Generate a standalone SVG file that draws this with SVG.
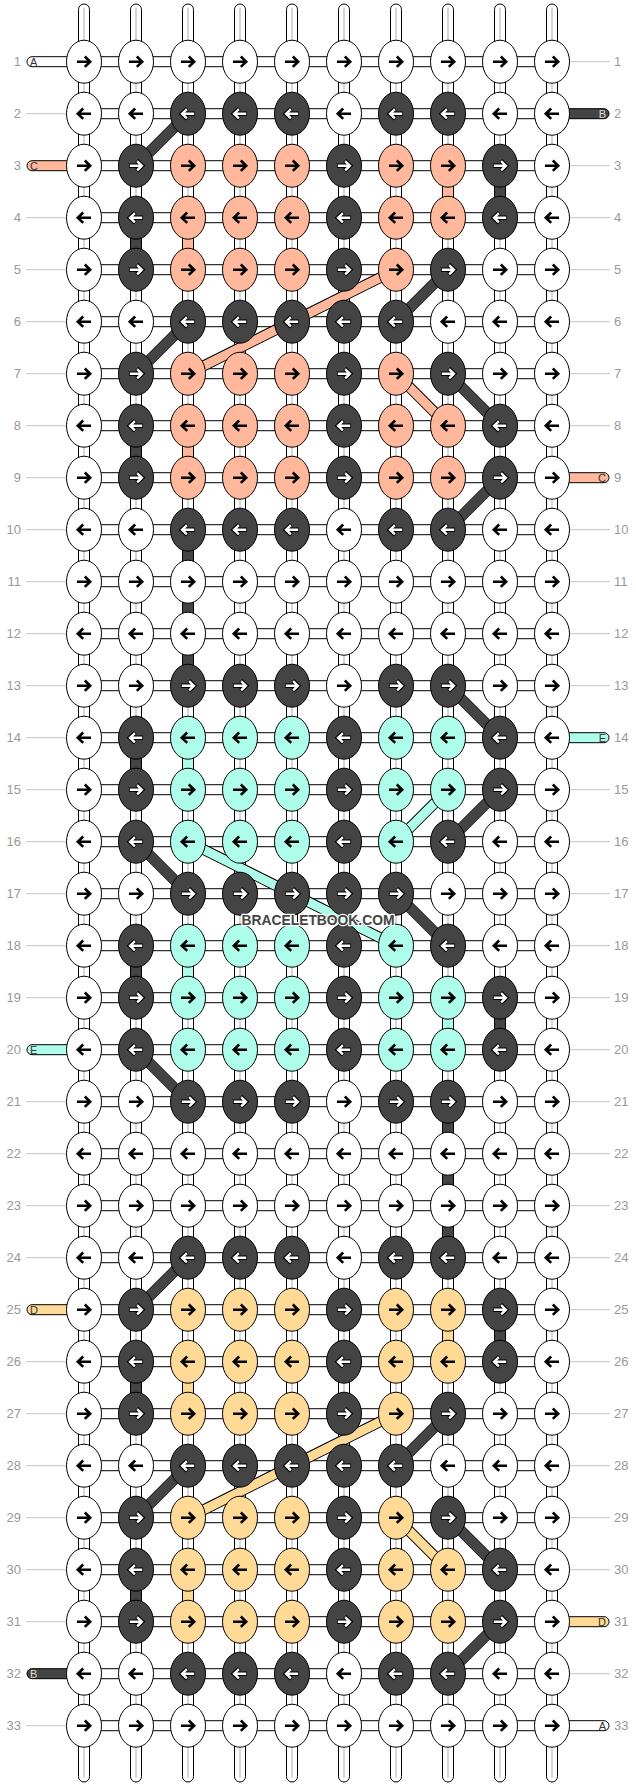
<svg xmlns="http://www.w3.org/2000/svg" xmlns:xlink="http://www.w3.org/1999/xlink" width="636" height="1788" viewBox="0 0 636 1788">
<style>
.w{fill:#fff;stroke:#000;stroke-width:1}
.d{fill:#444;stroke:#000;stroke-width:1}
.s{fill:#ffb89c;stroke:#000;stroke-width:1}
.e{fill:#adfdea;stroke:#000;stroke-width:1}
.y{fill:#ffd996;stroke:#000;stroke-width:1}
.strand{fill:#fff;stroke:#000;stroke-width:1}
.mid{stroke:#bdbdbd;stroke-width:1.2}
.hbar{fill:#fff;stroke:#000;stroke-width:1}
.lbl{font-family:"Liberation Sans",Arial,sans-serif;font-size:13px;fill:#999}
.gl{stroke:#c4c4c4;stroke-width:1}
.tl{font-family:"Liberation Sans",Arial,sans-serif;font-size:11px;fill:#333}
.dk{stroke:#444;stroke-width:10}
.ol{stroke:#000;stroke-width:11}
.cs{stroke:#ffb89c;stroke-width:9}
.ce{stroke:#adfdea;stroke-width:9}
.cy{stroke:#ffd996;stroke-width:9}
.wm{font-family:"Liberation Sans",Arial,sans-serif;font-weight:bold;font-size:15.5px;fill:#444;stroke:#fff;stroke-width:2.5;paint-order:stroke;stroke-linejoin:round}
</style>
<defs>
<path id="R" d="M-7 0H5.5M0.8-5.2L6.2 0 0.8 5.2" fill="none" stroke="#000" stroke-width="2.6"/>
<path id="L" d="M7 0H-5.5M-0.8-5.2L-6.2 0-0.8 5.2" fill="none" stroke="#000" stroke-width="2.6"/>
<g id="RW"><path d="M-7 0H5.5M0.8-5.2L6.2 0 0.8 5.2" fill="none" stroke="#000" stroke-width="4.4"/><path d="M-6.2 0H5.3M1.1-4.6L5.9 0 1.1 4.6" fill="none" stroke="#fff" stroke-width="2.4"/></g>
<g id="LW"><path d="M7 0H-5.5M-0.8-5.2L-6.2 0-0.8 5.2" fill="none" stroke="#000" stroke-width="4.4"/><path d="M6.2 0H-5.3M-1.1-4.6L-5.9 0-1.1 4.6" fill="none" stroke="#fff" stroke-width="2.4"/></g>
</defs>
<g transform="translate(0 61.7)">
<g id="labels">
<g class="gl">
<line x1="26" y1="52" x2="67" y2="52"/><line x1="26" y1="156" x2="67" y2="156"/><line x1="26" y1="208" x2="67" y2="208"/><line x1="26" y1="260" x2="67" y2="260"/><line x1="26" y1="312" x2="67" y2="312"/><line x1="26" y1="364" x2="67" y2="364"/><line x1="26" y1="416" x2="67" y2="416"/><line x1="26" y1="468" x2="67" y2="468"/><line x1="26" y1="520" x2="67" y2="520"/><line x1="26" y1="572" x2="67" y2="572"/><line x1="26" y1="624" x2="67" y2="624"/><line x1="26" y1="676" x2="67" y2="676"/><line x1="26" y1="728" x2="67" y2="728"/><line x1="26" y1="780" x2="67" y2="780"/><line x1="26" y1="832" x2="67" y2="832"/><line x1="26" y1="884" x2="67" y2="884"/><line x1="26" y1="936" x2="67" y2="936"/><line x1="26" y1="1040" x2="67" y2="1040"/><line x1="26" y1="1092" x2="67" y2="1092"/><line x1="26" y1="1144" x2="67" y2="1144"/><line x1="26" y1="1196" x2="67" y2="1196"/><line x1="26" y1="1300" x2="67" y2="1300"/><line x1="26" y1="1352" x2="67" y2="1352"/><line x1="26" y1="1404" x2="67" y2="1404"/><line x1="26" y1="1456" x2="67" y2="1456"/><line x1="26" y1="1508" x2="67" y2="1508"/><line x1="26" y1="1560" x2="67" y2="1560"/><line x1="26" y1="1664" x2="67" y2="1664"/>
<line x1="569" y1="0" x2="610" y2="0"/><line x1="569" y1="104" x2="610" y2="104"/><line x1="569" y1="156" x2="610" y2="156"/><line x1="569" y1="208" x2="610" y2="208"/><line x1="569" y1="260" x2="610" y2="260"/><line x1="569" y1="312" x2="610" y2="312"/><line x1="569" y1="364" x2="610" y2="364"/><line x1="569" y1="468" x2="610" y2="468"/><line x1="569" y1="520" x2="610" y2="520"/><line x1="569" y1="572" x2="610" y2="572"/><line x1="569" y1="624" x2="610" y2="624"/><line x1="569" y1="728" x2="610" y2="728"/><line x1="569" y1="780" x2="610" y2="780"/><line x1="569" y1="832" x2="610" y2="832"/><line x1="569" y1="884" x2="610" y2="884"/><line x1="569" y1="936" x2="610" y2="936"/><line x1="569" y1="988" x2="610" y2="988"/><line x1="569" y1="1040" x2="610" y2="1040"/><line x1="569" y1="1092" x2="610" y2="1092"/><line x1="569" y1="1144" x2="610" y2="1144"/><line x1="569" y1="1196" x2="610" y2="1196"/><line x1="569" y1="1248" x2="610" y2="1248"/><line x1="569" y1="1300" x2="610" y2="1300"/><line x1="569" y1="1352" x2="610" y2="1352"/><line x1="569" y1="1404" x2="610" y2="1404"/><line x1="569" y1="1456" x2="610" y2="1456"/><line x1="569" y1="1508" x2="610" y2="1508"/><line x1="569" y1="1612" x2="610" y2="1612"/>
</g>
<g class="lbl" text-anchor="end">
<text x="21" y="4.5">1</text><text x="21" y="56.5">2</text><text x="21" y="108.5">3</text><text x="21" y="160.5">4</text><text x="21" y="212.5">5</text><text x="21" y="264.5">6</text><text x="21" y="316.5">7</text><text x="21" y="368.5">8</text><text x="21" y="420.5">9</text><text x="21" y="472.5">10</text><text x="21" y="524.5">11</text><text x="21" y="576.5">12</text><text x="21" y="628.5">13</text><text x="21" y="680.5">14</text><text x="21" y="732.5">15</text><text x="21" y="784.5">16</text><text x="21" y="836.5">17</text><text x="21" y="888.5">18</text><text x="21" y="940.5">19</text><text x="21" y="992.5">20</text><text x="21" y="1044.5">21</text><text x="21" y="1096.5">22</text><text x="21" y="1148.5">23</text><text x="21" y="1200.5">24</text><text x="21" y="1252.5">25</text><text x="21" y="1304.5">26</text><text x="21" y="1356.5">27</text><text x="21" y="1408.5">28</text><text x="21" y="1460.5">29</text><text x="21" y="1512.5">30</text><text x="21" y="1564.5">31</text><text x="21" y="1616.5">32</text><text x="21" y="1668.5">33</text>
</g>
<g class="lbl">
<text x="614" y="4.5">1</text><text x="614" y="56.5">2</text><text x="614" y="108.5">3</text><text x="614" y="160.5">4</text><text x="614" y="212.5">5</text><text x="614" y="264.5">6</text><text x="614" y="316.5">7</text><text x="614" y="368.5">8</text><text x="614" y="420.5">9</text><text x="614" y="472.5">10</text><text x="614" y="524.5">11</text><text x="614" y="576.5">12</text><text x="614" y="628.5">13</text><text x="614" y="680.5">14</text><text x="614" y="732.5">15</text><text x="614" y="784.5">16</text><text x="614" y="836.5">17</text><text x="614" y="888.5">18</text><text x="614" y="940.5">19</text><text x="614" y="992.5">20</text><text x="614" y="1044.5">21</text><text x="614" y="1096.5">22</text><text x="614" y="1148.5">23</text><text x="614" y="1200.5">24</text><text x="614" y="1252.5">25</text><text x="614" y="1304.5">26</text><text x="614" y="1356.5">27</text><text x="614" y="1408.5">28</text><text x="614" y="1460.5">29</text><text x="614" y="1512.5">30</text><text x="614" y="1564.5">31</text><text x="614" y="1616.5">32</text><text x="614" y="1668.5">33</text>
</g>
</g>
<g id="connectors">
<g id="strands">
<rect class="strand" x="78.5" y="-57.7" width="11" height="1778" rx="5.5"/>
<rect class="strand" x="130.5" y="-57.7" width="11" height="1778" rx="5.5"/>
<rect class="strand" x="182.5" y="-57.7" width="11" height="1778" rx="5.5"/>
<rect class="strand" x="234.5" y="-57.7" width="11" height="1778" rx="5.5"/>
<rect class="strand" x="286.5" y="-57.7" width="11" height="1778" rx="5.5"/>
<rect class="strand" x="338.5" y="-57.7" width="11" height="1778" rx="5.5"/>
<rect class="strand" x="390.5" y="-57.7" width="11" height="1778" rx="5.5"/>
<rect class="strand" x="442.5" y="-57.7" width="11" height="1778" rx="5.5"/>
<rect class="strand" x="494.5" y="-57.7" width="11" height="1778" rx="5.5"/>
<rect class="strand" x="546.5" y="-57.7" width="11" height="1778" rx="5.5"/>
<g class="mid">
<line x1="84" y1="-54" x2="84" y2="1716"/><line x1="136" y1="-54" x2="136" y2="1716"/><line x1="188" y1="-54" x2="188" y2="1716"/><line x1="240" y1="-54" x2="240" y2="1716"/><line x1="292" y1="-54" x2="292" y2="1716"/><line x1="344" y1="-54" x2="344" y2="1716"/><line x1="396" y1="-54" x2="396" y2="1716"/><line x1="448" y1="-54" x2="448" y2="1716"/><line x1="500" y1="-54" x2="500" y2="1716"/><line x1="552" y1="-54" x2="552" y2="1716"/>
</g>
</g>
<g id="rows-bars">
<rect class="hbar" x="84" y="-5" width="468" height="10"/><rect class="hbar" x="84" y="47" width="468" height="10"/><rect class="hbar" x="84" y="99" width="468" height="10"/><rect class="hbar" x="84" y="151" width="468" height="10"/><rect class="hbar" x="84" y="203" width="468" height="10"/><rect class="hbar" x="84" y="255" width="468" height="10"/><rect class="hbar" x="84" y="307" width="468" height="10"/><rect class="hbar" x="84" y="359" width="468" height="10"/><rect class="hbar" x="84" y="411" width="468" height="10"/><rect class="hbar" x="84" y="463" width="468" height="10"/><rect class="hbar" x="84" y="515" width="468" height="10"/><rect class="hbar" x="84" y="567" width="468" height="10"/><rect class="hbar" x="84" y="619" width="468" height="10"/><rect class="hbar" x="84" y="671" width="468" height="10"/><rect class="hbar" x="84" y="723" width="468" height="10"/><rect class="hbar" x="84" y="775" width="468" height="10"/><rect class="hbar" x="84" y="827" width="468" height="10"/><rect class="hbar" x="84" y="879" width="468" height="10"/><rect class="hbar" x="84" y="931" width="468" height="10"/><rect class="hbar" x="84" y="983" width="468" height="10"/><rect class="hbar" x="84" y="1035" width="468" height="10"/><rect class="hbar" x="84" y="1087" width="468" height="10"/><rect class="hbar" x="84" y="1139" width="468" height="10"/><rect class="hbar" x="84" y="1191" width="468" height="10"/><rect class="hbar" x="84" y="1243" width="468" height="10"/><rect class="hbar" x="84" y="1295" width="468" height="10"/><rect class="hbar" x="84" y="1347" width="468" height="10"/><rect class="hbar" x="84" y="1399" width="468" height="10"/><rect class="hbar" x="84" y="1451" width="468" height="10"/><rect class="hbar" x="84" y="1503" width="468" height="10"/><rect class="hbar" x="84" y="1555" width="468" height="10"/><rect class="hbar" x="84" y="1607" width="468" height="10"/><rect class="hbar" x="84" y="1659" width="468" height="10"/>
</g>
<g id="tabs">
<rect class="w" x="27" y="-5" width="50" height="10" rx="5"/><text class="tl" x="30" y="4">A</text>
<rect class="s" x="27" y="99" width="50" height="10" rx="5"/><text class="tl" x="30" y="108">C</text>
<rect class="e" x="27" y="983" width="50" height="10" rx="5"/><text class="tl" x="30" y="992">E</text>
<rect class="y" x="27" y="1243" width="50" height="10" rx="5"/><text class="tl" x="30" y="1252">D</text>
<rect class="d" x="27" y="1607" width="50" height="10" rx="5"/><text class="tl" x="30" y="1616" style="fill:#ddd">B</text>
<rect class="d" x="559" y="47" width="50" height="10" rx="5"/><text class="tl" x="606" y="56" text-anchor="end" style="fill:#ddd">B</text>
<rect class="s" x="559" y="411" width="50" height="10" rx="5"/><text class="tl" x="606" y="420" text-anchor="end">C</text>
<rect class="e" x="559" y="671" width="50" height="10" rx="5"/><text class="tl" x="606" y="680" text-anchor="end">E</text>
<rect class="y" x="559" y="1555" width="50" height="10" rx="5"/><text class="tl" x="606" y="1564" text-anchor="end">D</text>
<rect class="w" x="559" y="1659" width="50" height="10" rx="5"/><text class="tl" x="606" y="1668" text-anchor="end">A</text>
</g>
<g id="thread-vertical">
<rect class="d" x="494.5" y="104" width="11" height="52"/>
<rect class="d" x="130.5" y="156" width="11" height="52"/>
<rect class="d" x="130.5" y="364" width="11" height="52"/>
<rect class="d" x="182.5" y="468" width="11" height="156"/>
<rect class="d" x="130.5" y="676" width="11" height="52"/>
<rect class="d" x="130.5" y="884" width="11" height="52"/>
<rect class="d" x="494.5" y="936" width="11" height="52"/>
<rect class="d" x="442.5" y="1040" width="11" height="156"/>
<rect class="d" x="494.5" y="1248" width="11" height="52"/>
<rect class="d" x="130.5" y="1300" width="11" height="52"/>
<rect class="d" x="130.5" y="1508" width="11" height="52"/>
<rect class="s" x="442.5" y="104" width="11" height="52"/>
<rect class="s" x="182.5" y="156" width="11" height="52"/>
<rect class="s" x="182.5" y="364" width="11" height="52"/>
<rect class="e" x="182.5" y="676" width="11" height="52"/>
<rect class="e" x="182.5" y="884" width="11" height="52"/>
<rect class="e" x="442.5" y="936" width="11" height="52"/>
<rect class="y" x="442.5" y="1248" width="11" height="52"/>
<rect class="y" x="182.5" y="1300" width="11" height="52"/>
<rect class="y" x="182.5" y="1508" width="11" height="52"/>
</g>
<g id="thread-diagonal">
<g class="ol">
<line x1="188" y1="52" x2="136" y2="104"/><line x1="448" y1="208" x2="396" y2="260"/><line x1="188" y1="260" x2="136" y2="312"/><line x1="448" y1="312" x2="500" y2="364"/><line x1="500" y1="416" x2="448" y2="468"/><line x1="448" y1="624" x2="500" y2="676"/><line x1="500" y1="728" x2="448" y2="780"/><line x1="136" y1="780" x2="188" y2="832"/><line x1="396" y1="832" x2="448" y2="884"/><line x1="136" y1="988" x2="188" y2="1040"/><line x1="188" y1="1196" x2="136" y2="1248"/><line x1="448" y1="1352" x2="396" y2="1404"/><line x1="188" y1="1404" x2="136" y2="1456"/><line x1="448" y1="1456" x2="500" y2="1508"/><line x1="500" y1="1560" x2="448" y2="1612"/>
<line x1="396" y1="208" x2="188" y2="312"/><line x1="396" y1="312" x2="448" y2="364"/>
<line x1="448" y1="728" x2="396" y2="780"/><line x1="188" y1="780" x2="396" y2="884"/>
<line x1="396" y1="1352" x2="188" y2="1456"/><line x1="396" y1="1456" x2="448" y2="1508"/>
</g>
<g class="dk">
<line x1="188" y1="52" x2="136" y2="104"/><line x1="448" y1="208" x2="396" y2="260"/><line x1="188" y1="260" x2="136" y2="312"/><line x1="448" y1="312" x2="500" y2="364"/><line x1="500" y1="416" x2="448" y2="468"/><line x1="448" y1="624" x2="500" y2="676"/><line x1="500" y1="728" x2="448" y2="780"/><line x1="136" y1="780" x2="188" y2="832"/><line x1="396" y1="832" x2="448" y2="884"/><line x1="136" y1="988" x2="188" y2="1040"/><line x1="188" y1="1196" x2="136" y2="1248"/><line x1="448" y1="1352" x2="396" y2="1404"/><line x1="188" y1="1404" x2="136" y2="1456"/><line x1="448" y1="1456" x2="500" y2="1508"/><line x1="500" y1="1560" x2="448" y2="1612"/>
</g>
<g class="cs"><line x1="396" y1="208" x2="188" y2="312"/><line x1="396" y1="312" x2="448" y2="364"/></g>
<g class="ce"><line x1="448" y1="728" x2="396" y2="780"/><line x1="188" y1="780" x2="396" y2="884"/></g>
<g class="cy"><line x1="396" y1="1352" x2="188" y2="1456"/><line x1="396" y1="1456" x2="448" y2="1508"/></g>
</g>
</g>
<g id="knots">
<g id="n1-1" transform="translate(84 0)"><ellipse class="w" rx="17.5" ry="21.5"/><use href="#R"/></g>
<g id="n1-2" transform="translate(136 0)"><ellipse class="w" rx="17.5" ry="21.5"/><use href="#R"/></g>
<g id="n1-3" transform="translate(188 0)"><ellipse class="w" rx="17.5" ry="21.5"/><use href="#R"/></g>
<g id="n1-4" transform="translate(240 0)"><ellipse class="w" rx="17.5" ry="21.5"/><use href="#R"/></g>
<g id="n1-5" transform="translate(292 0)"><ellipse class="w" rx="17.5" ry="21.5"/><use href="#R"/></g>
<g id="n1-6" transform="translate(344 0)"><ellipse class="w" rx="17.5" ry="21.5"/><use href="#R"/></g>
<g id="n1-7" transform="translate(396 0)"><ellipse class="w" rx="17.5" ry="21.5"/><use href="#R"/></g>
<g id="n1-8" transform="translate(448 0)"><ellipse class="w" rx="17.5" ry="21.5"/><use href="#R"/></g>
<g id="n1-9" transform="translate(500 0)"><ellipse class="w" rx="17.5" ry="21.5"/><use href="#R"/></g>
<g id="n1-10" transform="translate(552 0)"><ellipse class="w" rx="17.5" ry="21.5"/><use href="#R"/></g>
<g id="n2-1" transform="translate(84 52)"><ellipse class="w" rx="17.5" ry="21.5"/><use href="#L"/></g>
<g id="n2-2" transform="translate(136 52)"><ellipse class="w" rx="17.5" ry="21.5"/><use href="#L"/></g>
<g id="n2-3" transform="translate(188 52)"><ellipse class="d" rx="17.5" ry="21.5"/><use href="#LW"/></g>
<g id="n2-4" transform="translate(240 52)"><ellipse class="d" rx="17.5" ry="21.5"/><use href="#LW"/></g>
<g id="n2-5" transform="translate(292 52)"><ellipse class="d" rx="17.5" ry="21.5"/><use href="#LW"/></g>
<g id="n2-6" transform="translate(344 52)"><ellipse class="w" rx="17.5" ry="21.5"/><use href="#L"/></g>
<g id="n2-7" transform="translate(396 52)"><ellipse class="d" rx="17.5" ry="21.5"/><use href="#LW"/></g>
<g id="n2-8" transform="translate(448 52)"><ellipse class="d" rx="17.5" ry="21.5"/><use href="#LW"/></g>
<g id="n2-9" transform="translate(500 52)"><ellipse class="w" rx="17.5" ry="21.5"/><use href="#L"/></g>
<g id="n2-10" transform="translate(552 52)"><ellipse class="w" rx="17.5" ry="21.5"/><use href="#L"/></g>
<g id="n3-1" transform="translate(84 104)"><ellipse class="w" rx="17.5" ry="21.5"/><use href="#R"/></g>
<g id="n3-2" transform="translate(136 104)"><ellipse class="d" rx="17.5" ry="21.5"/><use href="#RW"/></g>
<g id="n3-3" transform="translate(188 104)"><ellipse class="s" rx="17.5" ry="21.5"/><use href="#R"/></g>
<g id="n3-4" transform="translate(240 104)"><ellipse class="s" rx="17.5" ry="21.5"/><use href="#R"/></g>
<g id="n3-5" transform="translate(292 104)"><ellipse class="s" rx="17.5" ry="21.5"/><use href="#R"/></g>
<g id="n3-6" transform="translate(344 104)"><ellipse class="d" rx="17.5" ry="21.5"/><use href="#RW"/></g>
<g id="n3-7" transform="translate(396 104)"><ellipse class="s" rx="17.5" ry="21.5"/><use href="#R"/></g>
<g id="n3-8" transform="translate(448 104)"><ellipse class="s" rx="17.5" ry="21.5"/><use href="#R"/></g>
<g id="n3-9" transform="translate(500 104)"><ellipse class="d" rx="17.5" ry="21.5"/><use href="#RW"/></g>
<g id="n3-10" transform="translate(552 104)"><ellipse class="w" rx="17.5" ry="21.5"/><use href="#R"/></g>
<g id="n4-1" transform="translate(84 156)"><ellipse class="w" rx="17.5" ry="21.5"/><use href="#L"/></g>
<g id="n4-2" transform="translate(136 156)"><ellipse class="d" rx="17.5" ry="21.5"/><use href="#LW"/></g>
<g id="n4-3" transform="translate(188 156)"><ellipse class="s" rx="17.5" ry="21.5"/><use href="#L"/></g>
<g id="n4-4" transform="translate(240 156)"><ellipse class="s" rx="17.5" ry="21.5"/><use href="#L"/></g>
<g id="n4-5" transform="translate(292 156)"><ellipse class="s" rx="17.5" ry="21.5"/><use href="#L"/></g>
<g id="n4-6" transform="translate(344 156)"><ellipse class="d" rx="17.5" ry="21.5"/><use href="#LW"/></g>
<g id="n4-7" transform="translate(396 156)"><ellipse class="s" rx="17.5" ry="21.5"/><use href="#L"/></g>
<g id="n4-8" transform="translate(448 156)"><ellipse class="s" rx="17.5" ry="21.5"/><use href="#L"/></g>
<g id="n4-9" transform="translate(500 156)"><ellipse class="d" rx="17.5" ry="21.5"/><use href="#LW"/></g>
<g id="n4-10" transform="translate(552 156)"><ellipse class="w" rx="17.5" ry="21.5"/><use href="#L"/></g>
<g id="n5-1" transform="translate(84 208)"><ellipse class="w" rx="17.5" ry="21.5"/><use href="#R"/></g>
<g id="n5-2" transform="translate(136 208)"><ellipse class="d" rx="17.5" ry="21.5"/><use href="#RW"/></g>
<g id="n5-3" transform="translate(188 208)"><ellipse class="s" rx="17.5" ry="21.5"/><use href="#R"/></g>
<g id="n5-4" transform="translate(240 208)"><ellipse class="s" rx="17.5" ry="21.5"/><use href="#R"/></g>
<g id="n5-5" transform="translate(292 208)"><ellipse class="s" rx="17.5" ry="21.5"/><use href="#R"/></g>
<g id="n5-6" transform="translate(344 208)"><ellipse class="d" rx="17.5" ry="21.5"/><use href="#RW"/></g>
<g id="n5-7" transform="translate(396 208)"><ellipse class="s" rx="17.5" ry="21.5"/><use href="#R"/></g>
<g id="n5-8" transform="translate(448 208)"><ellipse class="d" rx="17.5" ry="21.5"/><use href="#RW"/></g>
<g id="n5-9" transform="translate(500 208)"><ellipse class="w" rx="17.5" ry="21.5"/><use href="#R"/></g>
<g id="n5-10" transform="translate(552 208)"><ellipse class="w" rx="17.5" ry="21.5"/><use href="#R"/></g>
<g id="n6-1" transform="translate(84 260)"><ellipse class="w" rx="17.5" ry="21.5"/><use href="#L"/></g>
<g id="n6-2" transform="translate(136 260)"><ellipse class="w" rx="17.5" ry="21.5"/><use href="#L"/></g>
<g id="n6-3" transform="translate(188 260)"><ellipse class="d" rx="17.5" ry="21.5"/><use href="#LW"/></g>
<g id="n6-4" transform="translate(240 260)"><ellipse class="d" rx="17.5" ry="21.5"/><use href="#LW"/></g>
<g id="n6-5" transform="translate(292 260)"><ellipse class="d" rx="17.5" ry="21.5"/><use href="#LW"/></g>
<g id="n6-6" transform="translate(344 260)"><ellipse class="d" rx="17.5" ry="21.5"/><use href="#LW"/></g>
<g id="n6-7" transform="translate(396 260)"><ellipse class="d" rx="17.5" ry="21.5"/><use href="#LW"/></g>
<g id="n6-8" transform="translate(448 260)"><ellipse class="w" rx="17.5" ry="21.5"/><use href="#L"/></g>
<g id="n6-9" transform="translate(500 260)"><ellipse class="w" rx="17.5" ry="21.5"/><use href="#L"/></g>
<g id="n6-10" transform="translate(552 260)"><ellipse class="w" rx="17.5" ry="21.5"/><use href="#L"/></g>
<g id="n7-1" transform="translate(84 312)"><ellipse class="w" rx="17.5" ry="21.5"/><use href="#R"/></g>
<g id="n7-2" transform="translate(136 312)"><ellipse class="d" rx="17.5" ry="21.5"/><use href="#RW"/></g>
<g id="n7-3" transform="translate(188 312)"><ellipse class="s" rx="17.5" ry="21.5"/><use href="#R"/></g>
<g id="n7-4" transform="translate(240 312)"><ellipse class="s" rx="17.5" ry="21.5"/><use href="#R"/></g>
<g id="n7-5" transform="translate(292 312)"><ellipse class="s" rx="17.5" ry="21.5"/><use href="#R"/></g>
<g id="n7-6" transform="translate(344 312)"><ellipse class="d" rx="17.5" ry="21.5"/><use href="#RW"/></g>
<g id="n7-7" transform="translate(396 312)"><ellipse class="s" rx="17.5" ry="21.5"/><use href="#R"/></g>
<g id="n7-8" transform="translate(448 312)"><ellipse class="d" rx="17.5" ry="21.5"/><use href="#RW"/></g>
<g id="n7-9" transform="translate(500 312)"><ellipse class="w" rx="17.5" ry="21.5"/><use href="#R"/></g>
<g id="n7-10" transform="translate(552 312)"><ellipse class="w" rx="17.5" ry="21.5"/><use href="#R"/></g>
<g id="n8-1" transform="translate(84 364)"><ellipse class="w" rx="17.5" ry="21.5"/><use href="#L"/></g>
<g id="n8-2" transform="translate(136 364)"><ellipse class="d" rx="17.5" ry="21.5"/><use href="#LW"/></g>
<g id="n8-3" transform="translate(188 364)"><ellipse class="s" rx="17.5" ry="21.5"/><use href="#L"/></g>
<g id="n8-4" transform="translate(240 364)"><ellipse class="s" rx="17.5" ry="21.5"/><use href="#L"/></g>
<g id="n8-5" transform="translate(292 364)"><ellipse class="s" rx="17.5" ry="21.5"/><use href="#L"/></g>
<g id="n8-6" transform="translate(344 364)"><ellipse class="d" rx="17.5" ry="21.5"/><use href="#LW"/></g>
<g id="n8-7" transform="translate(396 364)"><ellipse class="s" rx="17.5" ry="21.5"/><use href="#L"/></g>
<g id="n8-8" transform="translate(448 364)"><ellipse class="s" rx="17.5" ry="21.5"/><use href="#L"/></g>
<g id="n8-9" transform="translate(500 364)"><ellipse class="d" rx="17.5" ry="21.5"/><use href="#LW"/></g>
<g id="n8-10" transform="translate(552 364)"><ellipse class="w" rx="17.5" ry="21.5"/><use href="#L"/></g>
<g id="n9-1" transform="translate(84 416)"><ellipse class="w" rx="17.5" ry="21.5"/><use href="#R"/></g>
<g id="n9-2" transform="translate(136 416)"><ellipse class="d" rx="17.5" ry="21.5"/><use href="#RW"/></g>
<g id="n9-3" transform="translate(188 416)"><ellipse class="s" rx="17.5" ry="21.5"/><use href="#R"/></g>
<g id="n9-4" transform="translate(240 416)"><ellipse class="s" rx="17.5" ry="21.5"/><use href="#R"/></g>
<g id="n9-5" transform="translate(292 416)"><ellipse class="s" rx="17.5" ry="21.5"/><use href="#R"/></g>
<g id="n9-6" transform="translate(344 416)"><ellipse class="d" rx="17.5" ry="21.5"/><use href="#RW"/></g>
<g id="n9-7" transform="translate(396 416)"><ellipse class="s" rx="17.5" ry="21.5"/><use href="#R"/></g>
<g id="n9-8" transform="translate(448 416)"><ellipse class="s" rx="17.5" ry="21.5"/><use href="#R"/></g>
<g id="n9-9" transform="translate(500 416)"><ellipse class="d" rx="17.5" ry="21.5"/><use href="#RW"/></g>
<g id="n9-10" transform="translate(552 416)"><ellipse class="w" rx="17.5" ry="21.5"/><use href="#R"/></g>
<g id="n10-1" transform="translate(84 468)"><ellipse class="w" rx="17.5" ry="21.5"/><use href="#L"/></g>
<g id="n10-2" transform="translate(136 468)"><ellipse class="w" rx="17.5" ry="21.5"/><use href="#L"/></g>
<g id="n10-3" transform="translate(188 468)"><ellipse class="d" rx="17.5" ry="21.5"/><use href="#LW"/></g>
<g id="n10-4" transform="translate(240 468)"><ellipse class="d" rx="17.5" ry="21.5"/><use href="#LW"/></g>
<g id="n10-5" transform="translate(292 468)"><ellipse class="d" rx="17.5" ry="21.5"/><use href="#LW"/></g>
<g id="n10-6" transform="translate(344 468)"><ellipse class="w" rx="17.5" ry="21.5"/><use href="#L"/></g>
<g id="n10-7" transform="translate(396 468)"><ellipse class="d" rx="17.5" ry="21.5"/><use href="#LW"/></g>
<g id="n10-8" transform="translate(448 468)"><ellipse class="d" rx="17.5" ry="21.5"/><use href="#LW"/></g>
<g id="n10-9" transform="translate(500 468)"><ellipse class="w" rx="17.5" ry="21.5"/><use href="#L"/></g>
<g id="n10-10" transform="translate(552 468)"><ellipse class="w" rx="17.5" ry="21.5"/><use href="#L"/></g>
<g id="n11-1" transform="translate(84 520)"><ellipse class="w" rx="17.5" ry="21.5"/><use href="#R"/></g>
<g id="n11-2" transform="translate(136 520)"><ellipse class="w" rx="17.5" ry="21.5"/><use href="#R"/></g>
<g id="n11-3" transform="translate(188 520)"><ellipse class="w" rx="17.5" ry="21.5"/><use href="#R"/></g>
<g id="n11-4" transform="translate(240 520)"><ellipse class="w" rx="17.5" ry="21.5"/><use href="#R"/></g>
<g id="n11-5" transform="translate(292 520)"><ellipse class="w" rx="17.5" ry="21.5"/><use href="#R"/></g>
<g id="n11-6" transform="translate(344 520)"><ellipse class="w" rx="17.5" ry="21.5"/><use href="#R"/></g>
<g id="n11-7" transform="translate(396 520)"><ellipse class="w" rx="17.5" ry="21.5"/><use href="#R"/></g>
<g id="n11-8" transform="translate(448 520)"><ellipse class="w" rx="17.5" ry="21.5"/><use href="#R"/></g>
<g id="n11-9" transform="translate(500 520)"><ellipse class="w" rx="17.5" ry="21.5"/><use href="#R"/></g>
<g id="n11-10" transform="translate(552 520)"><ellipse class="w" rx="17.5" ry="21.5"/><use href="#R"/></g>
<g id="n12-1" transform="translate(84 572)"><ellipse class="w" rx="17.5" ry="21.5"/><use href="#L"/></g>
<g id="n12-2" transform="translate(136 572)"><ellipse class="w" rx="17.5" ry="21.5"/><use href="#L"/></g>
<g id="n12-3" transform="translate(188 572)"><ellipse class="w" rx="17.5" ry="21.5"/><use href="#L"/></g>
<g id="n12-4" transform="translate(240 572)"><ellipse class="w" rx="17.5" ry="21.5"/><use href="#L"/></g>
<g id="n12-5" transform="translate(292 572)"><ellipse class="w" rx="17.5" ry="21.5"/><use href="#L"/></g>
<g id="n12-6" transform="translate(344 572)"><ellipse class="w" rx="17.5" ry="21.5"/><use href="#L"/></g>
<g id="n12-7" transform="translate(396 572)"><ellipse class="w" rx="17.5" ry="21.5"/><use href="#L"/></g>
<g id="n12-8" transform="translate(448 572)"><ellipse class="w" rx="17.5" ry="21.5"/><use href="#L"/></g>
<g id="n12-9" transform="translate(500 572)"><ellipse class="w" rx="17.5" ry="21.5"/><use href="#L"/></g>
<g id="n12-10" transform="translate(552 572)"><ellipse class="w" rx="17.5" ry="21.5"/><use href="#L"/></g>
<g id="n13-1" transform="translate(84 624)"><ellipse class="w" rx="17.5" ry="21.5"/><use href="#R"/></g>
<g id="n13-2" transform="translate(136 624)"><ellipse class="w" rx="17.5" ry="21.5"/><use href="#R"/></g>
<g id="n13-3" transform="translate(188 624)"><ellipse class="d" rx="17.5" ry="21.5"/><use href="#RW"/></g>
<g id="n13-4" transform="translate(240 624)"><ellipse class="d" rx="17.5" ry="21.5"/><use href="#RW"/></g>
<g id="n13-5" transform="translate(292 624)"><ellipse class="d" rx="17.5" ry="21.5"/><use href="#RW"/></g>
<g id="n13-6" transform="translate(344 624)"><ellipse class="w" rx="17.5" ry="21.5"/><use href="#R"/></g>
<g id="n13-7" transform="translate(396 624)"><ellipse class="d" rx="17.5" ry="21.5"/><use href="#RW"/></g>
<g id="n13-8" transform="translate(448 624)"><ellipse class="d" rx="17.5" ry="21.5"/><use href="#RW"/></g>
<g id="n13-9" transform="translate(500 624)"><ellipse class="w" rx="17.5" ry="21.5"/><use href="#R"/></g>
<g id="n13-10" transform="translate(552 624)"><ellipse class="w" rx="17.5" ry="21.5"/><use href="#R"/></g>
<g id="n14-1" transform="translate(84 676)"><ellipse class="w" rx="17.5" ry="21.5"/><use href="#L"/></g>
<g id="n14-2" transform="translate(136 676)"><ellipse class="d" rx="17.5" ry="21.5"/><use href="#LW"/></g>
<g id="n14-3" transform="translate(188 676)"><ellipse class="e" rx="17.5" ry="21.5"/><use href="#L"/></g>
<g id="n14-4" transform="translate(240 676)"><ellipse class="e" rx="17.5" ry="21.5"/><use href="#L"/></g>
<g id="n14-5" transform="translate(292 676)"><ellipse class="e" rx="17.5" ry="21.5"/><use href="#L"/></g>
<g id="n14-6" transform="translate(344 676)"><ellipse class="d" rx="17.5" ry="21.5"/><use href="#LW"/></g>
<g id="n14-7" transform="translate(396 676)"><ellipse class="e" rx="17.5" ry="21.5"/><use href="#L"/></g>
<g id="n14-8" transform="translate(448 676)"><ellipse class="e" rx="17.5" ry="21.5"/><use href="#L"/></g>
<g id="n14-9" transform="translate(500 676)"><ellipse class="d" rx="17.5" ry="21.5"/><use href="#LW"/></g>
<g id="n14-10" transform="translate(552 676)"><ellipse class="w" rx="17.5" ry="21.5"/><use href="#L"/></g>
<g id="n15-1" transform="translate(84 728)"><ellipse class="w" rx="17.5" ry="21.5"/><use href="#R"/></g>
<g id="n15-2" transform="translate(136 728)"><ellipse class="d" rx="17.5" ry="21.5"/><use href="#RW"/></g>
<g id="n15-3" transform="translate(188 728)"><ellipse class="e" rx="17.5" ry="21.5"/><use href="#R"/></g>
<g id="n15-4" transform="translate(240 728)"><ellipse class="e" rx="17.5" ry="21.5"/><use href="#R"/></g>
<g id="n15-5" transform="translate(292 728)"><ellipse class="e" rx="17.5" ry="21.5"/><use href="#R"/></g>
<g id="n15-6" transform="translate(344 728)"><ellipse class="d" rx="17.5" ry="21.5"/><use href="#RW"/></g>
<g id="n15-7" transform="translate(396 728)"><ellipse class="e" rx="17.5" ry="21.5"/><use href="#R"/></g>
<g id="n15-8" transform="translate(448 728)"><ellipse class="e" rx="17.5" ry="21.5"/><use href="#R"/></g>
<g id="n15-9" transform="translate(500 728)"><ellipse class="d" rx="17.5" ry="21.5"/><use href="#RW"/></g>
<g id="n15-10" transform="translate(552 728)"><ellipse class="w" rx="17.5" ry="21.5"/><use href="#R"/></g>
<g id="n16-1" transform="translate(84 780)"><ellipse class="w" rx="17.5" ry="21.5"/><use href="#L"/></g>
<g id="n16-2" transform="translate(136 780)"><ellipse class="d" rx="17.5" ry="21.5"/><use href="#LW"/></g>
<g id="n16-3" transform="translate(188 780)"><ellipse class="e" rx="17.5" ry="21.5"/><use href="#L"/></g>
<g id="n16-4" transform="translate(240 780)"><ellipse class="e" rx="17.5" ry="21.5"/><use href="#L"/></g>
<g id="n16-5" transform="translate(292 780)"><ellipse class="e" rx="17.5" ry="21.5"/><use href="#L"/></g>
<g id="n16-6" transform="translate(344 780)"><ellipse class="d" rx="17.5" ry="21.5"/><use href="#LW"/></g>
<g id="n16-7" transform="translate(396 780)"><ellipse class="e" rx="17.5" ry="21.5"/><use href="#L"/></g>
<g id="n16-8" transform="translate(448 780)"><ellipse class="d" rx="17.5" ry="21.5"/><use href="#LW"/></g>
<g id="n16-9" transform="translate(500 780)"><ellipse class="w" rx="17.5" ry="21.5"/><use href="#L"/></g>
<g id="n16-10" transform="translate(552 780)"><ellipse class="w" rx="17.5" ry="21.5"/><use href="#L"/></g>
<g id="n17-1" transform="translate(84 832)"><ellipse class="w" rx="17.5" ry="21.5"/><use href="#R"/></g>
<g id="n17-2" transform="translate(136 832)"><ellipse class="w" rx="17.5" ry="21.5"/><use href="#R"/></g>
<g id="n17-3" transform="translate(188 832)"><ellipse class="d" rx="17.5" ry="21.5"/><use href="#RW"/></g>
<g id="n17-4" transform="translate(240 832)"><ellipse class="d" rx="17.5" ry="21.5"/><use href="#RW"/></g>
<g id="n17-5" transform="translate(292 832)"><ellipse class="d" rx="17.5" ry="21.5"/><use href="#RW"/></g>
<g id="n17-6" transform="translate(344 832)"><ellipse class="d" rx="17.5" ry="21.5"/><use href="#RW"/></g>
<g id="n17-7" transform="translate(396 832)"><ellipse class="d" rx="17.5" ry="21.5"/><use href="#RW"/></g>
<g id="n17-8" transform="translate(448 832)"><ellipse class="w" rx="17.5" ry="21.5"/><use href="#R"/></g>
<g id="n17-9" transform="translate(500 832)"><ellipse class="w" rx="17.5" ry="21.5"/><use href="#R"/></g>
<g id="n17-10" transform="translate(552 832)"><ellipse class="w" rx="17.5" ry="21.5"/><use href="#R"/></g>
<g id="n18-1" transform="translate(84 884)"><ellipse class="w" rx="17.5" ry="21.5"/><use href="#L"/></g>
<g id="n18-2" transform="translate(136 884)"><ellipse class="d" rx="17.5" ry="21.5"/><use href="#LW"/></g>
<g id="n18-3" transform="translate(188 884)"><ellipse class="e" rx="17.5" ry="21.5"/><use href="#L"/></g>
<g id="n18-4" transform="translate(240 884)"><ellipse class="e" rx="17.5" ry="21.5"/><use href="#L"/></g>
<g id="n18-5" transform="translate(292 884)"><ellipse class="e" rx="17.5" ry="21.5"/><use href="#L"/></g>
<g id="n18-6" transform="translate(344 884)"><ellipse class="d" rx="17.5" ry="21.5"/><use href="#LW"/></g>
<g id="n18-7" transform="translate(396 884)"><ellipse class="e" rx="17.5" ry="21.5"/><use href="#L"/></g>
<g id="n18-8" transform="translate(448 884)"><ellipse class="d" rx="17.5" ry="21.5"/><use href="#LW"/></g>
<g id="n18-9" transform="translate(500 884)"><ellipse class="w" rx="17.5" ry="21.5"/><use href="#L"/></g>
<g id="n18-10" transform="translate(552 884)"><ellipse class="w" rx="17.5" ry="21.5"/><use href="#L"/></g>
<g id="n19-1" transform="translate(84 936)"><ellipse class="w" rx="17.5" ry="21.5"/><use href="#R"/></g>
<g id="n19-2" transform="translate(136 936)"><ellipse class="d" rx="17.5" ry="21.5"/><use href="#RW"/></g>
<g id="n19-3" transform="translate(188 936)"><ellipse class="e" rx="17.5" ry="21.5"/><use href="#R"/></g>
<g id="n19-4" transform="translate(240 936)"><ellipse class="e" rx="17.5" ry="21.5"/><use href="#R"/></g>
<g id="n19-5" transform="translate(292 936)"><ellipse class="e" rx="17.5" ry="21.5"/><use href="#R"/></g>
<g id="n19-6" transform="translate(344 936)"><ellipse class="d" rx="17.5" ry="21.5"/><use href="#RW"/></g>
<g id="n19-7" transform="translate(396 936)"><ellipse class="e" rx="17.5" ry="21.5"/><use href="#R"/></g>
<g id="n19-8" transform="translate(448 936)"><ellipse class="e" rx="17.5" ry="21.5"/><use href="#R"/></g>
<g id="n19-9" transform="translate(500 936)"><ellipse class="d" rx="17.5" ry="21.5"/><use href="#RW"/></g>
<g id="n19-10" transform="translate(552 936)"><ellipse class="w" rx="17.5" ry="21.5"/><use href="#R"/></g>
<g id="n20-1" transform="translate(84 988)"><ellipse class="w" rx="17.5" ry="21.5"/><use href="#L"/></g>
<g id="n20-2" transform="translate(136 988)"><ellipse class="d" rx="17.5" ry="21.5"/><use href="#LW"/></g>
<g id="n20-3" transform="translate(188 988)"><ellipse class="e" rx="17.5" ry="21.5"/><use href="#L"/></g>
<g id="n20-4" transform="translate(240 988)"><ellipse class="e" rx="17.5" ry="21.5"/><use href="#L"/></g>
<g id="n20-5" transform="translate(292 988)"><ellipse class="e" rx="17.5" ry="21.5"/><use href="#L"/></g>
<g id="n20-6" transform="translate(344 988)"><ellipse class="d" rx="17.5" ry="21.5"/><use href="#LW"/></g>
<g id="n20-7" transform="translate(396 988)"><ellipse class="e" rx="17.5" ry="21.5"/><use href="#L"/></g>
<g id="n20-8" transform="translate(448 988)"><ellipse class="e" rx="17.5" ry="21.5"/><use href="#L"/></g>
<g id="n20-9" transform="translate(500 988)"><ellipse class="d" rx="17.5" ry="21.5"/><use href="#LW"/></g>
<g id="n20-10" transform="translate(552 988)"><ellipse class="w" rx="17.5" ry="21.5"/><use href="#L"/></g>
<g id="n21-1" transform="translate(84 1040)"><ellipse class="w" rx="17.5" ry="21.5"/><use href="#R"/></g>
<g id="n21-2" transform="translate(136 1040)"><ellipse class="w" rx="17.5" ry="21.5"/><use href="#R"/></g>
<g id="n21-3" transform="translate(188 1040)"><ellipse class="d" rx="17.5" ry="21.5"/><use href="#RW"/></g>
<g id="n21-4" transform="translate(240 1040)"><ellipse class="d" rx="17.5" ry="21.5"/><use href="#RW"/></g>
<g id="n21-5" transform="translate(292 1040)"><ellipse class="d" rx="17.5" ry="21.5"/><use href="#RW"/></g>
<g id="n21-6" transform="translate(344 1040)"><ellipse class="w" rx="17.5" ry="21.5"/><use href="#R"/></g>
<g id="n21-7" transform="translate(396 1040)"><ellipse class="d" rx="17.5" ry="21.5"/><use href="#RW"/></g>
<g id="n21-8" transform="translate(448 1040)"><ellipse class="d" rx="17.5" ry="21.5"/><use href="#RW"/></g>
<g id="n21-9" transform="translate(500 1040)"><ellipse class="w" rx="17.5" ry="21.5"/><use href="#R"/></g>
<g id="n21-10" transform="translate(552 1040)"><ellipse class="w" rx="17.5" ry="21.5"/><use href="#R"/></g>
<g id="n22-1" transform="translate(84 1092)"><ellipse class="w" rx="17.5" ry="21.5"/><use href="#L"/></g>
<g id="n22-2" transform="translate(136 1092)"><ellipse class="w" rx="17.5" ry="21.5"/><use href="#L"/></g>
<g id="n22-3" transform="translate(188 1092)"><ellipse class="w" rx="17.5" ry="21.5"/><use href="#L"/></g>
<g id="n22-4" transform="translate(240 1092)"><ellipse class="w" rx="17.5" ry="21.5"/><use href="#L"/></g>
<g id="n22-5" transform="translate(292 1092)"><ellipse class="w" rx="17.5" ry="21.5"/><use href="#L"/></g>
<g id="n22-6" transform="translate(344 1092)"><ellipse class="w" rx="17.5" ry="21.5"/><use href="#L"/></g>
<g id="n22-7" transform="translate(396 1092)"><ellipse class="w" rx="17.5" ry="21.5"/><use href="#L"/></g>
<g id="n22-8" transform="translate(448 1092)"><ellipse class="w" rx="17.5" ry="21.5"/><use href="#L"/></g>
<g id="n22-9" transform="translate(500 1092)"><ellipse class="w" rx="17.5" ry="21.5"/><use href="#L"/></g>
<g id="n22-10" transform="translate(552 1092)"><ellipse class="w" rx="17.5" ry="21.5"/><use href="#L"/></g>
<g id="n23-1" transform="translate(84 1144)"><ellipse class="w" rx="17.5" ry="21.5"/><use href="#R"/></g>
<g id="n23-2" transform="translate(136 1144)"><ellipse class="w" rx="17.5" ry="21.5"/><use href="#R"/></g>
<g id="n23-3" transform="translate(188 1144)"><ellipse class="w" rx="17.5" ry="21.5"/><use href="#R"/></g>
<g id="n23-4" transform="translate(240 1144)"><ellipse class="w" rx="17.5" ry="21.5"/><use href="#R"/></g>
<g id="n23-5" transform="translate(292 1144)"><ellipse class="w" rx="17.5" ry="21.5"/><use href="#R"/></g>
<g id="n23-6" transform="translate(344 1144)"><ellipse class="w" rx="17.5" ry="21.5"/><use href="#R"/></g>
<g id="n23-7" transform="translate(396 1144)"><ellipse class="w" rx="17.5" ry="21.5"/><use href="#R"/></g>
<g id="n23-8" transform="translate(448 1144)"><ellipse class="w" rx="17.5" ry="21.5"/><use href="#R"/></g>
<g id="n23-9" transform="translate(500 1144)"><ellipse class="w" rx="17.5" ry="21.5"/><use href="#R"/></g>
<g id="n23-10" transform="translate(552 1144)"><ellipse class="w" rx="17.5" ry="21.5"/><use href="#R"/></g>
<g id="n24-1" transform="translate(84 1196)"><ellipse class="w" rx="17.5" ry="21.5"/><use href="#L"/></g>
<g id="n24-2" transform="translate(136 1196)"><ellipse class="w" rx="17.5" ry="21.5"/><use href="#L"/></g>
<g id="n24-3" transform="translate(188 1196)"><ellipse class="d" rx="17.5" ry="21.5"/><use href="#LW"/></g>
<g id="n24-4" transform="translate(240 1196)"><ellipse class="d" rx="17.5" ry="21.5"/><use href="#LW"/></g>
<g id="n24-5" transform="translate(292 1196)"><ellipse class="d" rx="17.5" ry="21.5"/><use href="#LW"/></g>
<g id="n24-6" transform="translate(344 1196)"><ellipse class="w" rx="17.5" ry="21.5"/><use href="#L"/></g>
<g id="n24-7" transform="translate(396 1196)"><ellipse class="d" rx="17.5" ry="21.5"/><use href="#LW"/></g>
<g id="n24-8" transform="translate(448 1196)"><ellipse class="d" rx="17.5" ry="21.5"/><use href="#LW"/></g>
<g id="n24-9" transform="translate(500 1196)"><ellipse class="w" rx="17.5" ry="21.5"/><use href="#L"/></g>
<g id="n24-10" transform="translate(552 1196)"><ellipse class="w" rx="17.5" ry="21.5"/><use href="#L"/></g>
<g id="n25-1" transform="translate(84 1248)"><ellipse class="w" rx="17.5" ry="21.5"/><use href="#R"/></g>
<g id="n25-2" transform="translate(136 1248)"><ellipse class="d" rx="17.5" ry="21.5"/><use href="#RW"/></g>
<g id="n25-3" transform="translate(188 1248)"><ellipse class="y" rx="17.5" ry="21.5"/><use href="#R"/></g>
<g id="n25-4" transform="translate(240 1248)"><ellipse class="y" rx="17.5" ry="21.5"/><use href="#R"/></g>
<g id="n25-5" transform="translate(292 1248)"><ellipse class="y" rx="17.5" ry="21.5"/><use href="#R"/></g>
<g id="n25-6" transform="translate(344 1248)"><ellipse class="d" rx="17.5" ry="21.5"/><use href="#RW"/></g>
<g id="n25-7" transform="translate(396 1248)"><ellipse class="y" rx="17.5" ry="21.5"/><use href="#R"/></g>
<g id="n25-8" transform="translate(448 1248)"><ellipse class="y" rx="17.5" ry="21.5"/><use href="#R"/></g>
<g id="n25-9" transform="translate(500 1248)"><ellipse class="d" rx="17.5" ry="21.5"/><use href="#RW"/></g>
<g id="n25-10" transform="translate(552 1248)"><ellipse class="w" rx="17.5" ry="21.5"/><use href="#R"/></g>
<g id="n26-1" transform="translate(84 1300)"><ellipse class="w" rx="17.5" ry="21.5"/><use href="#L"/></g>
<g id="n26-2" transform="translate(136 1300)"><ellipse class="d" rx="17.5" ry="21.5"/><use href="#LW"/></g>
<g id="n26-3" transform="translate(188 1300)"><ellipse class="y" rx="17.5" ry="21.5"/><use href="#L"/></g>
<g id="n26-4" transform="translate(240 1300)"><ellipse class="y" rx="17.5" ry="21.5"/><use href="#L"/></g>
<g id="n26-5" transform="translate(292 1300)"><ellipse class="y" rx="17.5" ry="21.5"/><use href="#L"/></g>
<g id="n26-6" transform="translate(344 1300)"><ellipse class="d" rx="17.5" ry="21.5"/><use href="#LW"/></g>
<g id="n26-7" transform="translate(396 1300)"><ellipse class="y" rx="17.5" ry="21.5"/><use href="#L"/></g>
<g id="n26-8" transform="translate(448 1300)"><ellipse class="y" rx="17.5" ry="21.5"/><use href="#L"/></g>
<g id="n26-9" transform="translate(500 1300)"><ellipse class="d" rx="17.5" ry="21.5"/><use href="#LW"/></g>
<g id="n26-10" transform="translate(552 1300)"><ellipse class="w" rx="17.5" ry="21.5"/><use href="#L"/></g>
<g id="n27-1" transform="translate(84 1352)"><ellipse class="w" rx="17.5" ry="21.5"/><use href="#R"/></g>
<g id="n27-2" transform="translate(136 1352)"><ellipse class="d" rx="17.5" ry="21.5"/><use href="#RW"/></g>
<g id="n27-3" transform="translate(188 1352)"><ellipse class="y" rx="17.5" ry="21.5"/><use href="#R"/></g>
<g id="n27-4" transform="translate(240 1352)"><ellipse class="y" rx="17.5" ry="21.5"/><use href="#R"/></g>
<g id="n27-5" transform="translate(292 1352)"><ellipse class="y" rx="17.5" ry="21.5"/><use href="#R"/></g>
<g id="n27-6" transform="translate(344 1352)"><ellipse class="d" rx="17.5" ry="21.5"/><use href="#RW"/></g>
<g id="n27-7" transform="translate(396 1352)"><ellipse class="y" rx="17.5" ry="21.5"/><use href="#R"/></g>
<g id="n27-8" transform="translate(448 1352)"><ellipse class="d" rx="17.5" ry="21.5"/><use href="#RW"/></g>
<g id="n27-9" transform="translate(500 1352)"><ellipse class="w" rx="17.5" ry="21.5"/><use href="#R"/></g>
<g id="n27-10" transform="translate(552 1352)"><ellipse class="w" rx="17.5" ry="21.5"/><use href="#R"/></g>
<g id="n28-1" transform="translate(84 1404)"><ellipse class="w" rx="17.5" ry="21.5"/><use href="#L"/></g>
<g id="n28-2" transform="translate(136 1404)"><ellipse class="w" rx="17.5" ry="21.5"/><use href="#L"/></g>
<g id="n28-3" transform="translate(188 1404)"><ellipse class="d" rx="17.5" ry="21.5"/><use href="#LW"/></g>
<g id="n28-4" transform="translate(240 1404)"><ellipse class="d" rx="17.5" ry="21.5"/><use href="#LW"/></g>
<g id="n28-5" transform="translate(292 1404)"><ellipse class="d" rx="17.5" ry="21.5"/><use href="#LW"/></g>
<g id="n28-6" transform="translate(344 1404)"><ellipse class="d" rx="17.5" ry="21.5"/><use href="#LW"/></g>
<g id="n28-7" transform="translate(396 1404)"><ellipse class="d" rx="17.5" ry="21.5"/><use href="#LW"/></g>
<g id="n28-8" transform="translate(448 1404)"><ellipse class="w" rx="17.5" ry="21.5"/><use href="#L"/></g>
<g id="n28-9" transform="translate(500 1404)"><ellipse class="w" rx="17.5" ry="21.5"/><use href="#L"/></g>
<g id="n28-10" transform="translate(552 1404)"><ellipse class="w" rx="17.5" ry="21.5"/><use href="#L"/></g>
<g id="n29-1" transform="translate(84 1456)"><ellipse class="w" rx="17.5" ry="21.5"/><use href="#R"/></g>
<g id="n29-2" transform="translate(136 1456)"><ellipse class="d" rx="17.5" ry="21.5"/><use href="#RW"/></g>
<g id="n29-3" transform="translate(188 1456)"><ellipse class="y" rx="17.5" ry="21.5"/><use href="#R"/></g>
<g id="n29-4" transform="translate(240 1456)"><ellipse class="y" rx="17.5" ry="21.5"/><use href="#R"/></g>
<g id="n29-5" transform="translate(292 1456)"><ellipse class="y" rx="17.5" ry="21.5"/><use href="#R"/></g>
<g id="n29-6" transform="translate(344 1456)"><ellipse class="d" rx="17.5" ry="21.5"/><use href="#RW"/></g>
<g id="n29-7" transform="translate(396 1456)"><ellipse class="y" rx="17.5" ry="21.5"/><use href="#R"/></g>
<g id="n29-8" transform="translate(448 1456)"><ellipse class="d" rx="17.5" ry="21.5"/><use href="#RW"/></g>
<g id="n29-9" transform="translate(500 1456)"><ellipse class="w" rx="17.5" ry="21.5"/><use href="#R"/></g>
<g id="n29-10" transform="translate(552 1456)"><ellipse class="w" rx="17.5" ry="21.5"/><use href="#R"/></g>
<g id="n30-1" transform="translate(84 1508)"><ellipse class="w" rx="17.5" ry="21.5"/><use href="#L"/></g>
<g id="n30-2" transform="translate(136 1508)"><ellipse class="d" rx="17.5" ry="21.5"/><use href="#LW"/></g>
<g id="n30-3" transform="translate(188 1508)"><ellipse class="y" rx="17.5" ry="21.5"/><use href="#L"/></g>
<g id="n30-4" transform="translate(240 1508)"><ellipse class="y" rx="17.5" ry="21.5"/><use href="#L"/></g>
<g id="n30-5" transform="translate(292 1508)"><ellipse class="y" rx="17.5" ry="21.5"/><use href="#L"/></g>
<g id="n30-6" transform="translate(344 1508)"><ellipse class="d" rx="17.5" ry="21.5"/><use href="#LW"/></g>
<g id="n30-7" transform="translate(396 1508)"><ellipse class="y" rx="17.5" ry="21.5"/><use href="#L"/></g>
<g id="n30-8" transform="translate(448 1508)"><ellipse class="y" rx="17.5" ry="21.5"/><use href="#L"/></g>
<g id="n30-9" transform="translate(500 1508)"><ellipse class="d" rx="17.5" ry="21.5"/><use href="#LW"/></g>
<g id="n30-10" transform="translate(552 1508)"><ellipse class="w" rx="17.5" ry="21.5"/><use href="#L"/></g>
<g id="n31-1" transform="translate(84 1560)"><ellipse class="w" rx="17.5" ry="21.5"/><use href="#R"/></g>
<g id="n31-2" transform="translate(136 1560)"><ellipse class="d" rx="17.5" ry="21.5"/><use href="#RW"/></g>
<g id="n31-3" transform="translate(188 1560)"><ellipse class="y" rx="17.5" ry="21.5"/><use href="#R"/></g>
<g id="n31-4" transform="translate(240 1560)"><ellipse class="y" rx="17.5" ry="21.5"/><use href="#R"/></g>
<g id="n31-5" transform="translate(292 1560)"><ellipse class="y" rx="17.5" ry="21.5"/><use href="#R"/></g>
<g id="n31-6" transform="translate(344 1560)"><ellipse class="d" rx="17.5" ry="21.5"/><use href="#RW"/></g>
<g id="n31-7" transform="translate(396 1560)"><ellipse class="y" rx="17.5" ry="21.5"/><use href="#R"/></g>
<g id="n31-8" transform="translate(448 1560)"><ellipse class="y" rx="17.5" ry="21.5"/><use href="#R"/></g>
<g id="n31-9" transform="translate(500 1560)"><ellipse class="d" rx="17.5" ry="21.5"/><use href="#RW"/></g>
<g id="n31-10" transform="translate(552 1560)"><ellipse class="w" rx="17.5" ry="21.5"/><use href="#R"/></g>
<g id="n32-1" transform="translate(84 1612)"><ellipse class="w" rx="17.5" ry="21.5"/><use href="#L"/></g>
<g id="n32-2" transform="translate(136 1612)"><ellipse class="w" rx="17.5" ry="21.5"/><use href="#L"/></g>
<g id="n32-3" transform="translate(188 1612)"><ellipse class="d" rx="17.5" ry="21.5"/><use href="#LW"/></g>
<g id="n32-4" transform="translate(240 1612)"><ellipse class="d" rx="17.5" ry="21.5"/><use href="#LW"/></g>
<g id="n32-5" transform="translate(292 1612)"><ellipse class="d" rx="17.5" ry="21.5"/><use href="#LW"/></g>
<g id="n32-6" transform="translate(344 1612)"><ellipse class="w" rx="17.5" ry="21.5"/><use href="#L"/></g>
<g id="n32-7" transform="translate(396 1612)"><ellipse class="d" rx="17.5" ry="21.5"/><use href="#LW"/></g>
<g id="n32-8" transform="translate(448 1612)"><ellipse class="d" rx="17.5" ry="21.5"/><use href="#LW"/></g>
<g id="n32-9" transform="translate(500 1612)"><ellipse class="w" rx="17.5" ry="21.5"/><use href="#L"/></g>
<g id="n32-10" transform="translate(552 1612)"><ellipse class="w" rx="17.5" ry="21.5"/><use href="#L"/></g>
<g id="n33-1" transform="translate(84 1664)"><ellipse class="w" rx="17.5" ry="21.5"/><use href="#R"/></g>
<g id="n33-2" transform="translate(136 1664)"><ellipse class="w" rx="17.5" ry="21.5"/><use href="#R"/></g>
<g id="n33-3" transform="translate(188 1664)"><ellipse class="w" rx="17.5" ry="21.5"/><use href="#R"/></g>
<g id="n33-4" transform="translate(240 1664)"><ellipse class="w" rx="17.5" ry="21.5"/><use href="#R"/></g>
<g id="n33-5" transform="translate(292 1664)"><ellipse class="w" rx="17.5" ry="21.5"/><use href="#R"/></g>
<g id="n33-6" transform="translate(344 1664)"><ellipse class="w" rx="17.5" ry="21.5"/><use href="#R"/></g>
<g id="n33-7" transform="translate(396 1664)"><ellipse class="w" rx="17.5" ry="21.5"/><use href="#R"/></g>
<g id="n33-8" transform="translate(448 1664)"><ellipse class="w" rx="17.5" ry="21.5"/><use href="#R"/></g>
<g id="n33-9" transform="translate(500 1664)"><ellipse class="w" rx="17.5" ry="21.5"/><use href="#R"/></g>
<g id="n33-10" transform="translate(552 1664)"><ellipse class="w" rx="17.5" ry="21.5"/><use href="#R"/></g>
</g>
</g>
<text class="wm" x="318" y="924.5" text-anchor="middle" textLength="153" lengthAdjust="spacingAndGlyphs">BRACELETBOOK.COM</text>
</svg>
